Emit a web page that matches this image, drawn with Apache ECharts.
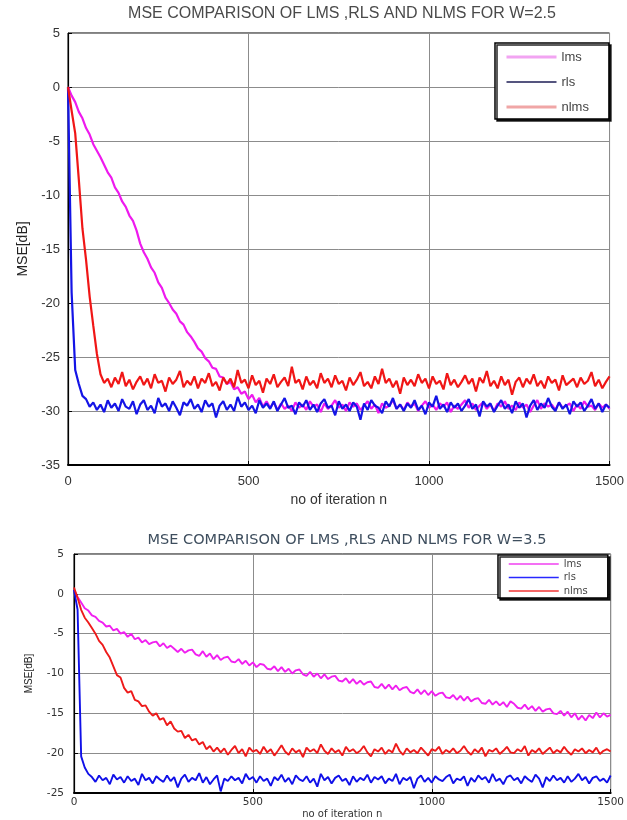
<!DOCTYPE html>
<html>
<head>
<meta charset="utf-8">
<script src="https://cdn.jsdelivr.net/npm/echarts/dist/echarts.min.js"></script>
<style>html,body{margin:0;padding:0;background:#fff}#c{width:627px;height:820px}</style>
</head>
<body>
<div id="c"></div>
<script>
// ---- data (MSE in dB, sampled every ITER_STEP iterations from n = 0 to 1500) ----
const ITER_STEP = 10;
const seriesNames = ['lms', 'rls', 'nlms'];
const xTicks = [0, 500, 1000, 1500];
const yTicksTop = [5, 0, -5, -10, -15, -20, -25, -30, -35];
const yTicksBottom = [5, 0, -5, -10, -15, -20, -25];

// W = 2.5
const lmsTop = [
0, -0.8, -1.4, -2.3, -2.9, -3.8, -4.4, -5.3, -5.9, -6.5,
-7.2, -7.9, -8.4, -9.3, -9.8, -10.6, -11.1, -11.9, -12.4, -13.3,
-14.5, -15.3, -15.9, -16.7, -17.2, -18.1, -18.6, -19.5, -20.0, -20.6,
-21.0, -21.7, -22.0, -22.7, -23.1, -23.6, -24.2, -24.5, -25.1, -25.4,
-26.0, -26.1, -26.8, -26.9, -27.5, -27.3, -28.0, -27.8, -28.4, -28.2,
-28.9, -28.5, -29.2, -28.8, -29.6, -29.1, -29.7, -29.2, -29.9,
-29.3, -29.8, -29.5, -30.0, -29.2, -29.7, -29.4, -29.9, -29.1, -29.6,
-29.4, -30.1, -29.3, -29.8, -29.5, -29.0, -29.7, -29.4, -30.0, -29.2,
-29.6, -29.3, -29.9, -29.5, -29.1, -29.8, -29.4, -30.2, -29.3, -29.7,
-29.5, -29.0, -29.8, -29.4, -29.9, -29.2, -29.6, -29.3, -30.0, -29.5,
-29.1, -29.7, -29.4, -29.9, -29.3, -29.6, -29.2, -30.1, -29.5, -29.8,
-29.4, -29.0, -29.7, -29.3, -29.9, -29.5, -29.2, -29.8, -29.4, -30.0,
-29.3, -29.6, -29.1, -29.8, -29.5, -29.9, -29.2, -29.7, -29.4, -30.1,
-29.5, -29.0, -29.8, -29.3, -29.6, -29.4, -29.9, -29.2, -29.7, -29.5,
-29.3, -30.0, -29.4, -29.8, -29.1, -29.6, -29.5, -29.9, -29.3, -29.7,
-29.4, -29.8
];
const rlsTop = [
0, -19.0, -26.2, -27.5, -28.6, -28.9, -29.6,
-29.2, -29.9, -29.4, -30.1, -29.0, -29.7, -29.3, -30.0, -28.9, -29.6,
-29.8, -29.1, -30.3, -29.4, -29.0, -29.9, -29.5, -30.2, -28.8, -29.6,
-29.3, -30.0, -29.1, -29.7, -30.4, -29.2, -29.5, -28.9, -29.8, -29.4,
-30.1, -29.0, -29.6, -29.3, -30.6, -29.5, -29.1, -29.9, -29.4, -30.0,
-28.7, -29.6, -29.2, -29.9, -29.5, -30.2, -29.0, -29.7, -29.3, -29.8,
-29.1, -30.0, -29.4, -28.8, -29.7, -29.5, -30.3, -29.2, -29.6, -29.0,
-29.9, -29.4, -30.1, -29.3, -28.9, -29.7, -29.5, -30.4, -29.1, -29.8,
-29.4, -30.0, -29.2, -29.6, -30.8, -29.3, -29.9, -29.0, -29.5, -29.7,
-30.2, -29.1, -29.6, -28.8, -29.8, -29.4, -30.0, -29.3, -29.7, -29.0,
-29.9, -29.5, -30.3, -29.2, -29.6, -28.6, -29.8, -29.4, -30.1, -29.2,
-29.7, -29.3, -30.0, -29.5, -28.9, -29.8, -29.4, -30.5, -29.1, -29.6,
-29.3, -30.1, -29.5, -29.0, -29.8, -29.4, -30.2, -29.1, -29.7, -29.3,
-30.6, -29.5, -29.0, -29.9, -29.3, -29.7, -28.8, -29.6, -30.0, -29.2,
-29.8, -29.4, -30.3, -29.1,
-29.6, -29.2, -30.0, -29.5, -28.9, -29.8, -29.3, -30.1, -29.4, -29.7
];
const nlmsTop = [
0, -2.2, -4.3, -8.6, -13.1, -16.0, -19.4, -22.1, -24.7, -26.6, -27.4,
-27.0, -27.8, -26.9, -27.5, -26.4, -27.7, -27.1, -28.0, -27.3, -26.8,
-27.6, -27.0, -27.9, -26.6, -27.4, -27.2, -28.2, -26.9, -27.5, -27.1,
-26.3, -27.8, -27.2, -27.6, -26.8, -27.9, -27.0, -27.4, -26.5, -27.7,
-27.3, -28.1, -26.9, -27.5, -27.0, -27.8, -26.2, -27.4, -27.1, -27.9,
-26.7, -27.6, -27.2, -28.3, -27.0, -27.5, -26.6, -27.8, -27.3, -26.9,
-27.7, -25.9, -27.4, -27.1, -28.0, -26.8, -27.6, -27.2, -27.9, -26.5,
-27.4, -27.0, -27.8, -26.7, -27.5, -27.2, -28.1, -26.9, -27.6, -27.1,
-26.4, -27.7, -27.3, -27.9, -26.8, -27.5, -26.1, -27.4, -27.0, -27.8,
-27.2, -28.4, -26.9, -27.6, -27.1, -27.7, -26.6, -27.4, -27.0, -27.9,
-26.8, -27.5, -27.2, -28.0, -26.5, -27.6, -27.1, -27.8, -27.3, -26.7,
-27.5, -27.0, -28.2, -26.9, -27.4, -26.3, -27.7, -27.2, -27.9, -26.8,
-27.6, -27.1, -28.5, -27.3, -26.9, -27.8, -27.0, -27.5, -26.6, -27.7,
-27.2, -27.9, -26.8, -27.4, -27.1, -28.1, -26.7, -27.6, -27.3, -27.0,
-27.8, -26.9, -27.5, -27.2, -26.4, -27.7, -27.1, -27.9, -27.3, -26.8
];

// W = 3.5
const lmsBottom = [
0.5, -0.4, -1.1, -1.8, -2.1, -2.7, -2.9, -3.4, -3.6, -4.1,
-4.0, -4.6, -4.4, -5.0, -4.8, -5.4, -5.0, -5.7, -5.5, -6.1,
-5.8, -6.3, -6.1, -6.0, -6.6, -6.2, -6.8, -6.5, -6.9, -7.3,
-6.9, -7.4, -7.1, -7.0, -7.6, -7.8, -7.2, -7.9, -7.5, -8.2,
-7.7, -8.3, -8.0, -7.9, -8.5, -8.6, -8.2, -8.8, -8.4, -9.0,
-8.6, -9.2, -8.8, -8.9, -9.4, -9.5, -9.1, -9.7, -9.2, -9.8,
-9.4, -10.0, -9.6, -9.5, -10.1, -10.3, -9.8, -10.4, -10.0, -10.6,
-10.1, -10.7, -10.4, -10.3, -10.9, -11.0, -10.6, -11.2, -10.7, -11.3,
-10.9, -11.4, -11.1, -11.0, -11.7, -11.8, -11.3, -11.9, -11.4, -12.0,
-11.5, -12.1, -11.8, -11.7, -12.3, -12.5, -12.0, -12.6, -12.1, -12.7,
-12.2, -12.8, -12.5, -12.4, -13.0, -13.1, -12.7, -13.3, -12.8, -13.4,
-12.9, -13.5, -13.2, -13.1, -13.7, -13.8, -13.3, -13.9, -13.5, -14.0,
-13.6, -14.2, -13.5, -13.8, -14.3, -14.4, -13.9, -14.5, -14.1, -14.7,
-14.2, -14.8, -14.5, -14.4, -15.0, -15.1, -14.7, -15.3, -14.8, -15.5,
-15.0, -15.8, -15.3, -15.9, -15.2, -15.6, -14.9, -15.5, -15.0, -15.4,
-15.2
];
const rlsBottom = [
0.5, -2.0, -20.4, -21.8, -22.6,
-23.0, -23.6, -22.8, -23.4, -23.1, -23.9, -22.7, -23.3, -23.0, -23.7,
-22.9, -23.5, -23.2, -24.0, -22.6, -23.4, -23.1, -23.8, -22.9, -23.3,
-23.6, -22.8, -23.5, -23.0, -24.3, -23.2, -22.7, -23.6, -23.1, -23.4,
-22.5, -23.7, -23.0, -23.9, -23.3, -22.8, -24.8, -23.2, -23.5, -22.9,
-23.4, -23.1, -23.8, -22.6, -23.3, -23.0, -23.7, -22.9, -23.5, -23.2,
-24.1, -23.0, -23.4, -22.7, -23.6, -23.1, -23.9, -22.8, -23.3, -23.5,
-22.9, -23.7, -23.2, -24.2, -22.6, -23.4, -23.0, -23.8, -23.1, -22.8,
-23.5, -23.2, -24.0, -22.9, -23.6, -23.1, -23.4, -22.7, -23.7, -23.0,
-23.3, -22.9, -23.8, -23.2, -23.5, -22.6, -23.9, -23.1, -23.4, -23.0,
-24.4, -23.2, -22.8, -23.6, -23.1, -23.7, -22.9, -23.3, -23.5, -23.0,
-22.7, -23.8, -23.2, -23.4, -22.9, -24.1, -23.1, -23.6, -22.8, -23.3,
-23.0, -23.7, -22.6, -23.5, -23.2, -23.9, -23.0, -22.8, -23.4, -23.1,
-23.8, -22.9, -23.3, -23.6, -22.7, -23.2, -24.3, -23.0, -23.5, -22.8,
-23.4, -23.1, -23.7, -22.9, -23.6, -23.2,
-22.6, -23.4, -23.0, -23.8, -23.1, -22.9, -23.5, -23.2, -23.7, -22.8
];
const nlmsBottom = [
0.8, -0.5, -2.0, -3.0, -3.6, -4.3, -5.0, -5.9, -6.4, -7.3,
-8.0, -9.1, -10.2, -10.5, -11.8, -12.4, -12.2, -13.3, -13.5, -14.1,
-14.0, -14.8, -15.3, -15.0, -15.8, -15.6, -16.5, -16.0, -16.9, -17.3,
-17.2, -18.1, -17.7, -18.4, -18.2, -18.9, -18.6, -19.5, -19.1, -19.8,
-19.3,
-19.9, -19.4, -20.2, -19.6, -19.1, -20.0, -19.5, -20.4, -19.3, -19.8,
-19.6, -20.1, -19.2, -19.9, -19.5, -20.3, -19.7, -19.0, -19.8, -20.2,
-19.4, -19.9, -19.6, -20.5, -19.3, -19.8, -19.5, -20.0, -18.9, -19.7,
-20.1, -19.4, -19.9, -19.6, -20.3, -19.2, -19.8, -19.5, -20.0, -19.7,
-19.1, -19.9, -20.4, -19.5, -19.8, -19.3, -20.1, -19.6, -19.9, -18.8,
-19.7, -20.2, -19.4, -19.9, -19.6, -20.0, -19.3, -19.8, -20.3, -19.5,
-19.7, -19.2, -20.1, -19.6, -19.9, -19.4, -20.0, -19.7, -19.1, -19.8,
-20.2, -19.5, -19.9, -19.3, -20.4, -19.6, -19.8, -19.4, -20.1, -19.7,
-19.2, -19.9, -20.0, -19.5, -19.8, -19.1, -20.3, -19.6, -19.9, -19.4,
-20.1, -19.7, -19.3, -20.0, -19.6, -19.9, -19.2, -19.8, -20.2, -19.5,
-19.8, -19.4, -20.0, -19.6, -19.9, -19.3, -20.1, -19.7, -19.5, -19.8
];

const titleTop = 'MSE COMPARISON OF LMS ,RLS AND NLMS FOR W=2.5';
const titleBottom = 'MSE COMPARISON OF LMS ,RLS AND NLMS FOR W=3.5';
const xName = 'no of iteration n';
const yName = 'MSE[dB]';

// ---- chart ----
const pairs = arr => arr.map((v, i) => [i * ITER_STEP, v]);
const chart = echarts.init(document.getElementById('c'), null, {renderer: 'canvas'});

function xAxisCfg(gridIndex, f) {
  return {
    type: 'value', gridIndex, min: xTicks[0], max: xTicks[xTicks.length - 1], interval: 500,
    name: xName, nameLocation: 'middle', nameGap: f.nameGap,
    nameTextStyle: {fontFamily: f.family, fontSize: f.nameSize, color: '#333'},
    axisLine: {show: true, onZero: false, lineStyle: {color: '#000', width: 2}},
    axisTick: {show: true, inside: true, length: 4, lineStyle: {color: '#000'}},
    axisLabel: {fontFamily: f.family, fontSize: f.tickSize, color: '#333', margin: f.xMargin,
                formatter: v => String(v)},
    splitLine: {show: true, lineStyle: {color: '#8c8c8c', width: 1}}
  };
}
function yAxisCfg(gridIndex, ticks, f) {
  return {
    type: 'value', gridIndex, min: ticks[ticks.length - 1], max: ticks[0], interval: 5,
    name: yName, nameLocation: 'middle', nameGap: f.yNameGap,
    nameTextStyle: {fontFamily: 'Liberation Sans', fontSize: f.yNameSize, color: '#222'},
    axisLine: {show: true, lineStyle: {color: '#000', width: 1.2}},
    axisTick: {show: true, inside: true, length: 4, lineStyle: {color: '#000'}},
    axisLabel: {fontFamily: f.family, fontSize: f.tickSize, color: '#333', margin: f.yMargin,
                formatter: v => String(v)},
    splitLine: {show: true, lineStyle: {color: '#8c8c8c', width: 1}}
  };
}
const fTop = {family: 'Liberation Sans', tickSize: 13, nameSize: 14, nameGap: 27, xMargin: 10, yMargin: 8, yNameGap: 35, yNameSize: 14};
const fBot = {family: 'DejaVu Sans', tickSize: 10.5, nameSize: 10, nameGap: 16, xMargin: 4, yMargin: 10, yNameGap: 40, yNameSize: 10};

const topColors = ['#ee1aee', '#1414e6', '#f01616'];
const botColors = ['#f020f0', '#1010e8', '#ee1a1a'];
const topData = [lmsTop, rlsTop, nlmsTop];
const botData = [lmsBottom, rlsBottom, nlmsBottom];

const series = [];
seriesNames.forEach((n, i) => series.push({
  name: n, type: 'line', xAxisIndex: 0, yAxisIndex: 0, symbol: 'none', silent: true,
  lineStyle: {color: topColors[i], width: 2.2}, itemStyle: {color: topColors[i]},
  data: pairs(topData[i])
}));
seriesNames.forEach((n, i) => series.push({
  name: n, type: 'line', xAxisIndex: 1, yAxisIndex: 1, symbol: 'none', silent: true,
  lineStyle: {color: botColors[i], width: 1.9}, itemStyle: {color: botColors[i]},
  data: pairs(botData[i])
}));

const topLegendColors = ['#f2a4f2', '#1c1c55', '#f0a6a6'];
const topLegendWidths = [3, 1.5, 3];
const botLegendColors = ['rgb(240,64,240)', 'rgb(40,40,255)', 'rgb(240,52,52)'];

chart.setOption({
  animation: false,
  backgroundColor: '#fff',
  title: [
    {text: titleTop, left: 342, top: 6, textAlign: 'center', padding: 0,
     textStyle: {fontFamily: 'Liberation Sans', fontSize: 16, fontWeight: 'normal', color: '#4a4a4a'}},
    {text: titleBottom, left: 347, top: 533, textAlign: 'center', padding: 0,
     textStyle: {fontFamily: 'DejaVu Sans', fontSize: 14.5, fontWeight: 'normal', color: '#3e4e5e'}}
  ],
  legend: [
    {orient: 'vertical', left: 495, top: 43, padding: [7, 20, 5, 10], itemWidth: 50, itemHeight: 14, itemGap: 11,
     selectedMode: false, backgroundColor: '#fff', borderColor: '#000', borderWidth: 1.5,
     shadowColor: 'rgba(0,0,0,0.85)', shadowOffsetX: 2, shadowOffsetY: 2, shadowBlur: 0,
     textStyle: {fontFamily: 'Liberation Sans', fontSize: 13, color: '#444', lineHeight: 14},
     data: seriesNames.map((n, i) => ({name: n, itemStyle: {opacity: 0},
       lineStyle: {color: topLegendColors[i], width: topLegendWidths[i], opacity: 1}}))},
    {orient: 'vertical', left: 498, top: 555, padding: [4, 20, 2, 10], itemWidth: 50, itemHeight: 8, itemGap: 3.5,
     selectedMode: false, backgroundColor: '#fff', borderColor: '#000', borderWidth: 1.5,
     shadowColor: 'rgba(0,0,0,0.85)', shadowOffsetX: 2, shadowOffsetY: 2, shadowBlur: 0,
     textStyle: {fontFamily: 'DejaVu Sans', fontSize: 10, color: '#444', lineHeight: 8},
     data: seriesNames.map((n, i) => ({name: n, itemStyle: {opacity: 0},
       lineStyle: {color: botLegendColors[i], width: 1.5, opacity: 1}}))}
  ],
  grid: [
    {left: 68, right: 12, top: 33, height: 432, show: true, borderColor: '#000', borderWidth: 1, backgroundColor: 'transparent'},
    {left: 74, right: 7, top: 554, height: 242, show: true, borderColor: '#000', borderWidth: 1, backgroundColor: 'transparent'}
  ],
  xAxis: [xAxisCfg(0, fTop), xAxisCfg(1, fBot)],
  yAxis: [yAxisCfg(0, yTicksTop, fTop), yAxisCfg(1, yTicksBottom, fBot)],
  series
});
</script>
</body>
</html>
